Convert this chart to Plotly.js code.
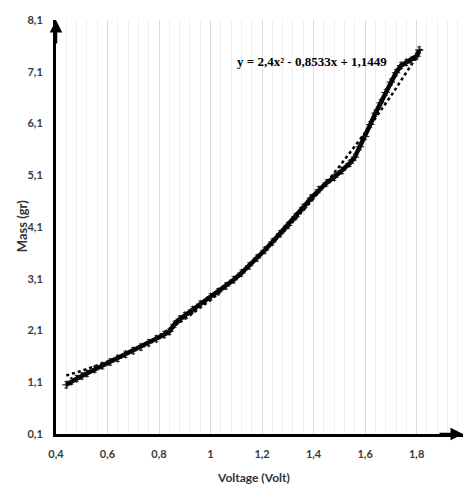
<!DOCTYPE html>
<html><head><meta charset="utf-8">
<script src="https://cdn.plot.ly/plotly-3.0.1.min.js"></script>
<style>html,body{margin:0;padding:0;background:#fff}#c{width:463px;height:484px}</style>
</head><body><div id="c"></div>
<script>
// Measured data (Voltage in Volt, Mass in gr)
const voltage = [0.44,0.46,0.48,0.50,0.52,0.55,0.58,0.61,0.64,0.67,0.70,0.73,0.76,0.79,0.82,0.84,0.86,0.88,0.90,0.93,0.96,1.00,1.03,1.06,1.09,1.12,1.15,1.18,1.21,1.24,1.27,1.30,1.33,1.36,1.39,1.42,1.45,1.48,1.51,1.54,1.56,1.58,1.60,1.62,1.64,1.66,1.68,1.70,1.72,1.74,1.76,1.78,1.80,1.81];
const mass    = [1.05,1.12,1.17,1.22,1.27,1.35,1.42,1.49,1.56,1.64,1.71,1.78,1.86,1.94,2.02,2.08,2.22,2.32,2.39,2.50,2.61,2.75,2.85,2.96,3.08,3.21,3.35,3.50,3.65,3.81,3.97,4.13,4.30,4.48,4.66,4.82,4.95,5.06,5.19,5.33,5.45,5.65,5.85,6.08,6.30,6.50,6.70,6.90,7.08,7.22,7.28,7.32,7.40,7.52];
// Polynomial trendline
const trendX = [0.44,0.50,0.60,0.70,0.80,0.90,1.00,1.10,1.20,1.30,1.40,1.50,1.60,1.70,1.80,1.82];
const trendY = [1.23,1.32,1.50,1.72,2.00,2.32,2.69,3.11,3.58,4.09,4.65,5.27,5.92,6.63,7.39,7.54];
const yTicks = [0.1,1.1,2.1,3.1,4.1,5.1,6.1,7.1,8.1];
const equation = "y = 2,4x² - 0,8533x + 1,1449";
const xTitle = "Voltage (Volt)";
const yTitle = "Mass (gr)";

const sansFam = "Lato, Open Sans, sans-serif";
const tickFont = {family: sansFam, size: 11, color: "#3a3a3a", weight: "bold"};

const traces = [
  {x: trendX, y: trendY, type: "scatter", mode: "lines",
   line: {color: "#000", width: 2.5, dash: "dot"}, hoverinfo: "skip", cliponaxis: false},
  {x: voltage, y: mass, type: "scatter", mode: "lines+markers",
   line: {color: "#000", width: 4.5},
   marker: {symbol: "cross-thin", size: 6, color: "#000", line: {color: "#111", width: 1}},
   error_y: {type: "constant", value: 0.06, thickness: 1, width: 2, color: "#333"},
   error_x: {type: "constant", value: 0.006, thickness: 1, width: 0, color: "#333"},
   cliponaxis: false}
];

const layout = {
  width: 463, height: 484,
  margin: {l: 56, r: 0, t: 20, b: 50},
  paper_bgcolor: "#fff", plot_bgcolor: "#fff",
  showlegend: false,
  separators: ",.",
  xaxis: {
    range: [0.4, 1.98], tick0: 0.4, dtick: 0.2,
    showgrid: true, gridcolor: "#d9d9d9", gridwidth: 1,
    minor: {dtick: 0.04, showgrid: true, gridcolor: "#efefef", gridwidth: 1},
    showline: true, linecolor: "#000", linewidth: 3,
    zeroline: false, ticks: "outside", ticklen: 8, tickcolor: "rgba(0,0,0,0)",
    tickfont: tickFont
  },
  yaxis: {
    range: [0.1, 8.1], tickvals: yTicks, tickformat: ".1f",
    showgrid: false,
    showline: true, linecolor: "#000", linewidth: 3,
    zeroline: false, ticks: "outside", ticklen: 8, tickcolor: "rgba(0,0,0,0)",
    tickfont: tickFont
  },
  annotations: [
    {x: 0.4, y: 8.1, xref: "x", yref: "y", ax: 0, ay: 25, showarrow: true,
     arrowhead: 2, arrowsize: 1, arrowwidth: 2.5, arrowcolor: "#000", text: ""},
    {x: 1.98, y: 0.1, xref: "x", yref: "y", ax: -25, ay: 0, showarrow: true,
     arrowhead: 2, arrowsize: 1, arrowwidth: 2.5, arrowcolor: "#000", text: ""},
    {x: 0, y: 0, xref: "paper", yref: "paper", showarrow: false, text: "<b>" + equation + "</b>",
     font: {family: "Liberation Serif, serif", size: 13, color: "#000"}},
    {x: 0.485, y: 0, xref: "paper", yref: "paper", yshift: -53, showarrow: false,
     text: "<b>" + xTitle + "</b>", font: {family: sansFam, size: 12, color: "#333"}},
    {x: 0, y: 0.502, xref: "paper", yref: "paper", xanchor: "center", yanchor: "middle",
     xshift: -34, showarrow: false, textangle: -90,
     text: "<b>" + yTitle + "</b>", font: {family: sansFam, size: 13, color: "#333"}}
  ]
};
// place equation by pixel position converted to paper space
const plotW = 463 - 56, plotH = 484 - 20 - 50;
layout.annotations[2].x = (312 - 56) / plotW;
layout.annotations[2].y = (434 - 52) / plotH;
Plotly.newPlot("c", traces, layout, {displayModeBar: false, staticPlot: true});
</script></body></html>
